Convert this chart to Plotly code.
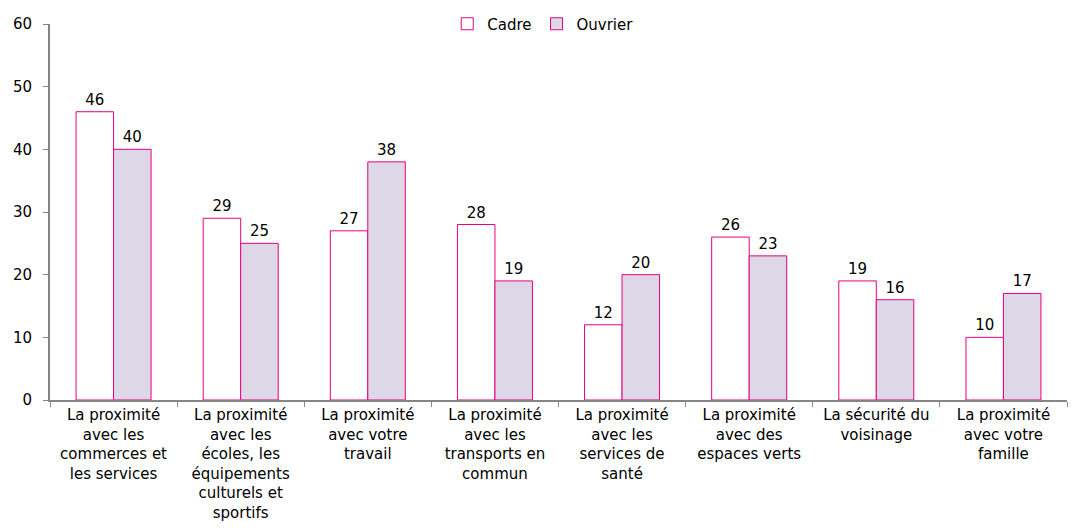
import plotly.graph_objects as go

categories = [
    "La proximité<br>avec les<br>commerces et<br>les services",
    "La proximité<br>avec les<br>écoles, les<br>équipements<br>culturels et<br>sportifs",
    "La proximité<br>avec votre<br>travail",
    "La proximité<br>avec les<br>transports en<br>commun",
    "La proximité<br>avec les<br>services de<br>santé",
    "La proximité<br>avec des<br>espaces verts",
    "La sécurité du<br>voisinage",
    "La proximité<br>avec votre<br>famille",
]
cadre = [46, 29, 27, 28, 12, 26, 19, 10]
ouvrier = [40, 25, 38, 19, 20, 23, 16, 17]

pink = "#E6007E"
font = dict(family="DejaVu Sans, Verdana, sans-serif", size=15, color="black")

fig = go.Figure()
fig.add_trace(go.Bar(
    x=categories, y=cadre, name="Cadre",
    marker=dict(color="white", line=dict(color=pink, width=1)),
    text=cadre, textposition="outside", textfont=font, cliponaxis=False,
))
fig.add_trace(go.Bar(
    x=categories, y=ouvrier, name="Ouvrier",
    marker=dict(color="#DED7E7", line=dict(color=pink, width=1)),
    text=ouvrier, textposition="outside", textfont=font, cliponaxis=False,
))

fig.update_layout(
    width=1072, height=529,
    font=font,
    paper_bgcolor="white", plot_bgcolor="white",
    barmode="group", bargap=0.41, bargroupgap=0,
    margin=dict(l=50, r=5, t=24, b=129, autoexpand=False),
    showlegend=True,
    legend=dict(orientation="h", x=0.485, xanchor="center", y=1.0, yanchor="middle",
                font=font, itemwidth=30, bgcolor="rgba(0,0,0,0)"),
)
fig.update_yaxes(
    range=[0, 60], dtick=10, showgrid=False,
    showline=True, linecolor="#868686", linewidth=2,
    ticks="outside", ticklen=5, tickcolor="#868686", ticklabelstandoff=8,
)
fig.update_xaxes(
    showline=True, linecolor="#868686", linewidth=2,
    ticks="outside", ticklen=5, tickcolor="#868686", tickson="boundaries",
    tickangle=0,
)

# drop the default body margin so the figure sits at the page origin
fig.write_html("out.html", config={"displayModeBar": False},
               post_script="document.body.style.margin='0';")
